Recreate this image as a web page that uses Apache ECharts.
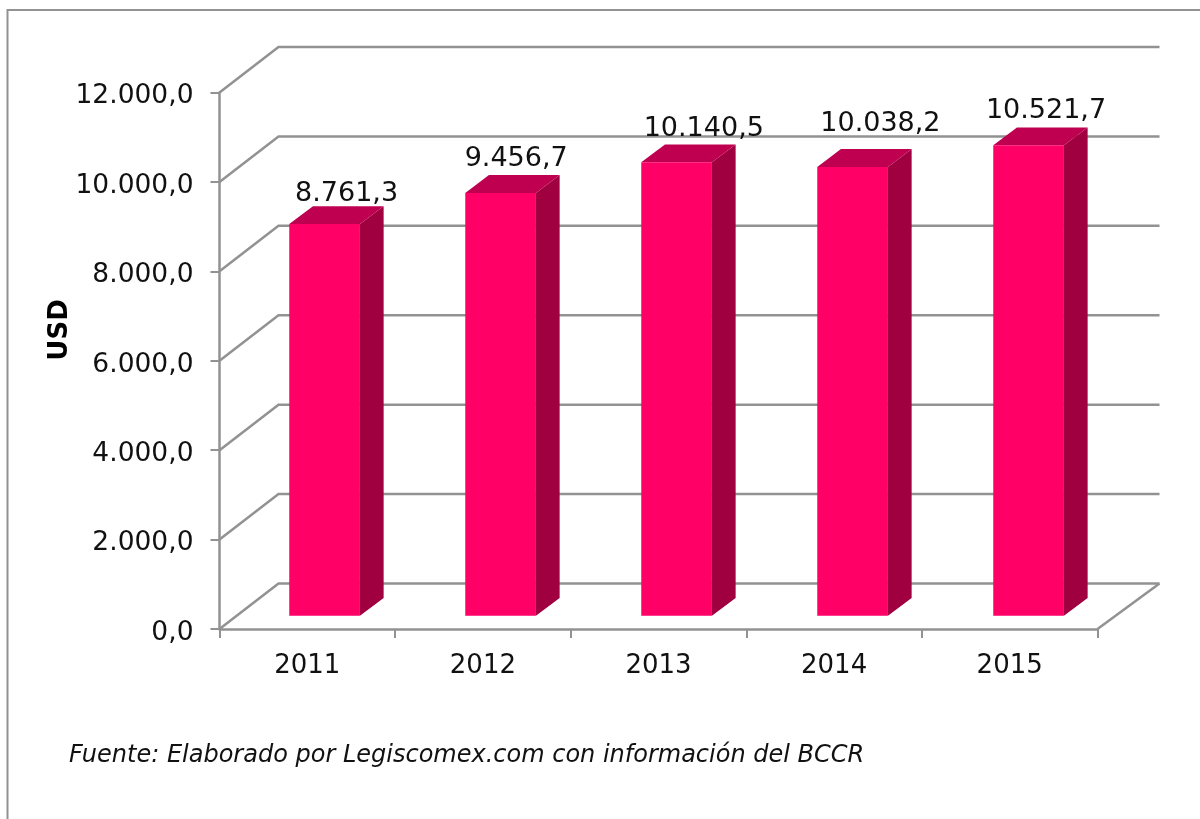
<!DOCTYPE html>
<html>
<head>
<meta charset="utf-8">
<title>USD 2011-2015</title>
<script src="https://cdn.jsdelivr.net/npm/echarts@6/dist/echarts.min.js"></script>
<style>
    html, body { margin: 0; padding: 0; background: #fff; }
    #divChart { width: 1200px; height: 819px; }
</style>
</head>
<body>
<div id="divChart"></div>
<script>
var years = ['2011', '2012', '2013', '2014', '2015'];
var usdValues = [8761.3, 9456.7, 10140.5, 10038.2, 10521.7];
var yTicks = [0, 2000, 4000, 6000, 8000, 10000, 12000];
var sourceText = 'Fuente: Elaborado por Legiscomex.com con información del BCCR';

// 3D look: how far the back wall sits from the axis plane
var wallDx = 59, wallDy = -45.5;
var wallExtraRight = 3;
var barShiftX = 17.3, barShiftY = -13.3;
var barSpread = 0.4;
var barDx = 23.7, barDy = -17.8;
var barRatio = 0.4025;
// labels were moved by hand in the original
var labelNudgeX = [22, 16, 28, 29, 19];
var labelNudgeY = [-30, -34, -33, -43, -34];

var fontName = '"DejaVu Sans", Verdana, sans-serif';
var gray = '#929292';

function esNumber(v) {
    var parts = v.toFixed(1).split('.');
    return parts[0].replace(/\B(?=(\d{3})+$)/g, '.') + ',' + parts[1];
}

function renderWall(params, api) {
    var sys = params.coordSys;
    var y = api.coord([0, api.value(1)])[1];
    var left = sys.x, right = sys.x + sys.width;
    var style = { stroke: gray, lineWidth: 2.5, fill: null };
    var backRight = right + wallDx + wallExtraRight;
    var children = [{
        type: 'polyline',
        shape: { points: [[left, y], [left + wallDx, y + wallDy], [backRight, y + wallDy]] },
        style: style
    }];
    // floor closes on the right side
    if (api.value(1) === 0) {
        children.push({
            type: 'line',
            shape: { x1: right, y1: y, x2: backRight, y2: y + wallDy },
            style: style
        });
    }
    return { type: 'group', children: children };
}

function renderBar(params, api) {
    var idx = api.value(0);
    var top = api.coord([idx, api.value(1)]);
    var base = api.coord([idx, 0]);
    var w = api.size([1, 0])[0] * barRatio;
    var x1 = top[0] + barShiftX + idx * barSpread - w / 2, x2 = x1 + w;
    var yTop = top[1] + barShiftY, yBase = base[1] + barShiftY;
    return {
        type: 'group',
        children: [{
            type: 'polygon',
            shape: { points: [[x2, yTop], [x2 + barDx, yTop + barDy], [x2 + barDx, yBase + barDy], [x2, yBase]] },
            style: { fill: '#a00040' }
        }, {
            type: 'polygon',
            shape: { points: [[x1, yTop], [x1 + barDx, yTop + barDy], [x2 + barDx, yTop + barDy], [x2, yTop]] },
            style: { fill: '#bf0050' }
        }, {
            type: 'rect',
            shape: { x: x1, y: yTop, width: w, height: yBase - yTop },
            style: { fill: '#ff0066' }
        }, {
            type: 'text',
            z2: 10,
            style: {
                text: esNumber(api.value(1)),
                x: top[0] + barShiftX + labelNudgeX[idx],
                y: yTop + labelNudgeY[idx],
                align: 'center',
                verticalAlign: 'middle',
                fill: '#111',
                font: '27px ' + fontName
            }
        }]
    };
}

var myChart = echarts.init(document.getElementById('divChart'));

var wallData = [];
for (var i in yTicks) {
    wallData.push([0, yTicks[i]]);
}
var barData = [];
for (var j in usdValues) {
    barData.push([Number(j), usdValues[j]]);
}

myChart.setOption({
    animation: false,
    backgroundColor: '#fff',
    title: {
        text: sourceText,
        left: 64,
        top: 739,
        textStyle: { fontFamily: fontName, fontSize: 24, fontStyle: 'italic', fontWeight: 'normal', color: '#111' }
    },
    grid: { left: 219.5, right: 102.5, top: 92.5, bottom: 190 },
    xAxis: {
        type: 'category',
        data: years,
        axisLine: { lineStyle: { color: gray, width: 2.5 } },
        axisTick: { show: true, length: 9, lineStyle: { color: gray, width: 2 } },
        axisLabel: { color: '#111', fontFamily: fontName, fontSize: 26, margin: 24 }
    },
    yAxis: {
        type: 'value',
        min: 0,
        max: 12000,
        interval: 2000,
        splitLine: { show: false },
        axisLine: { show: true, lineStyle: { color: gray, width: 2.5 } },
        axisTick: { show: true, length: 9, lineStyle: { color: gray, width: 2 } },
        axisLabel: {
            color: '#111',
            fontFamily: fontName,
            fontSize: 26.5,
            margin: 26,
            verticalAlign: 'top',
            lineHeight: 8,
            formatter: function(v) { return esNumber(v); }
        }
    },
    graphic: [{
        type: 'polyline',
        silent: true,
        shape: { points: [[7.5, 819], [7.5, 10], [1200, 10]] },
        style: { stroke: gray, lineWidth: 2, fill: null }
    }, {
        type: 'text',
        silent: true,
        x: 60,
        y: 330,
        rotation: Math.PI / 2,
        style: {
            text: 'USD',
            align: 'center',
            verticalAlign: 'middle',
            fill: '#000',
            font: 'bold 26px ' + fontName
        }
    }],
    series: [{
        type: 'custom',
        silent: true,
        renderItem: renderWall,
        encode: { x: 0, y: 1 },
        data: wallData,
        z: 1
    }, {
        type: 'custom',
        silent: true,
        renderItem: renderBar,
        encode: { x: 0, y: 1 },
        data: barData,
        z: 3
    }]
});
</script>
</body>
</html>
